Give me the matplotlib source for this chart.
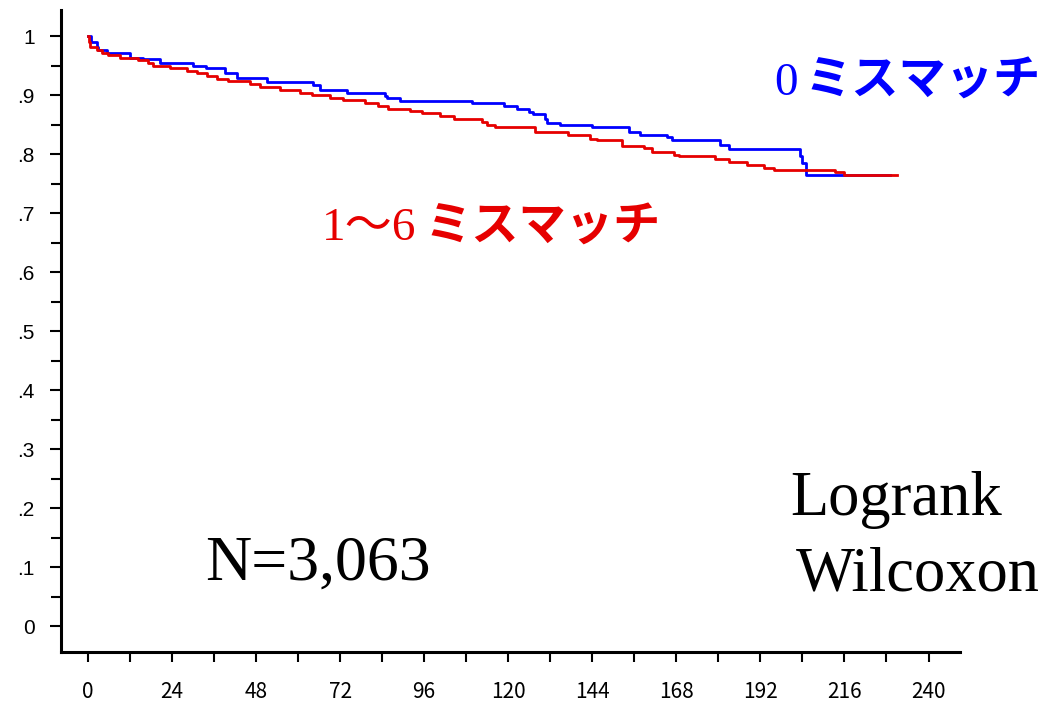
import numpy as np
import matplotlib.pyplot as plt
from matplotlib.ticker import MultipleLocator, FixedLocator

# Kaplan-Meier step points (months, survival)
t_zero = [0, 1.0, 2.5, 3.0, 5.3, 12.0, 15.8, 20.6, 30.0, 33.7, 39.1, 42.5, 51.0,
          64.2, 66.3, 73.9, 84.9, 85.3, 89.1, 109.6, 118.9, 122.5, 125.8, 127.2,
          130.6, 131.0, 134.9, 144.0, 154.4, 157.7, 165.3, 166.8, 180.6, 183.0,
          203.4, 203.9, 204.9, 229.0]
s_zero = [1.0, 0.990, 0.982, 0.976, 0.972, 0.963, 0.961, 0.955, 0.950, 0.945, 0.937,
          0.929, 0.922, 0.917, 0.908, 0.904, 0.899, 0.895, 0.890, 0.887, 0.882, 0.877,
          0.872, 0.868, 0.860, 0.853, 0.850, 0.846, 0.838, 0.832, 0.829, 0.823, 0.815,
          0.809, 0.796, 0.784, 0.764, 0.764]

t_mis = [0, 0.4, 0.6, 2.5, 3.9, 5.8, 9.1, 14.4, 17.2, 18.7, 23.4, 28.2, 31.0, 33.9,
         36.8, 40.1, 46.3, 49.1, 54.9, 60.6, 63.9, 69.1, 72.9, 79.1, 82.9, 85.8, 92.0,
         95.3, 100.6, 104.4, 112.5, 113.9, 116.3, 127.7, 137.2, 143.4, 145.3, 152.5,
         158.7, 161.1, 167.2, 168.7, 179.1, 183.0, 188.2, 192.9, 195.8, 213.4, 215.8,
         231.0]
s_mis = [1.0, 0.989, 0.982, 0.977, 0.972, 0.968, 0.963, 0.959, 0.955, 0.950, 0.945,
         0.941, 0.937, 0.932, 0.927, 0.923, 0.918, 0.914, 0.908, 0.904, 0.900, 0.895,
         0.892, 0.887, 0.882, 0.877, 0.873, 0.869, 0.864, 0.859, 0.855, 0.850, 0.845,
         0.837, 0.832, 0.826, 0.823, 0.814, 0.810, 0.804, 0.798, 0.796, 0.792, 0.787,
         0.782, 0.777, 0.773, 0.769, 0.764, 0.764]

x_ticks = [0, 24, 48, 72, 96, 120, 144, 168, 192, 216, 240]
y_ticks = [0, .1, .2, .3, .4, .5, .6, .7, .8, .9, 1]
y_labels = ['0', '.1', '.2', '.3', '.4', '.5', '.6', '.7', '.8', '.9', '1']

blue = '#0000ff'
red = '#e60000'
serif = ['Liberation Serif', 'Noto Sans CJK JP']
gothic = ['Noto Sans CJK JP', 'DejaVu Sans']

fig = plt.figure(figsize=(10.39, 7.07), dpi=100)
ax = fig.add_axes([0.0587, 0.0778, 0.8653, 0.908])

ax.step(t_zero, s_zero, where='post', color=blue, lw=2.0)
ax.step(t_mis, s_mis, where='post', color=red, lw=2.0)

ax.set_xlim(-7.7, 249)
ax.set_ylim(-0.044, 1.044)

for s in ['top', 'right']:
    ax.spines[s].set_visible(False)
for s in ['left', 'bottom']:
    ax.spines[s].set_linewidth(2.2)

ax.xaxis.set_major_locator(FixedLocator(x_ticks))
ax.xaxis.set_minor_locator(MultipleLocator(12))
ax.set_xticklabels([str(v) for v in x_ticks], family=gothic, fontsize=15)
ax.yaxis.set_major_locator(FixedLocator(y_ticks))
ax.yaxis.set_minor_locator(MultipleLocator(0.05))
ax.set_yticklabels(y_labels, family='Liberation Sans', fontsize=15)

ax.tick_params(axis='x', which='both', direction='out', length=7, width=1.5, pad=14)
ax.tick_params(axis='y', which='both', direction='out', length=8, width=1.5, pad=11)
ax.tick_params(axis='y', which='minor', length=7)

# labels of the two curves
ax.text(196.0, 0.900, '0', color=blue, family=serif, fontsize=34)
ax.text(204.6, 0.900, 'ミスマッチ', color=blue, family=gothic, fontweight='bold', fontsize=34)
ax.text(66.8, 0.654, '1〜6', color=red, family=serif, fontsize=34)
ax.text(96.0, 0.654, 'ミスマッチ', color=red, family=gothic, fontweight='bold', fontsize=34)

ax.text(33.4, 0.078, 'N=3,063', family=serif, fontsize=46)
ax.text(200.6, 0.188, 'Logrank', family=serif, fontsize=45)
ax.text(202.0, 0.061, 'Wilcoxon', family=serif, fontsize=45)

plt.savefig('out.png', dpi=100)
